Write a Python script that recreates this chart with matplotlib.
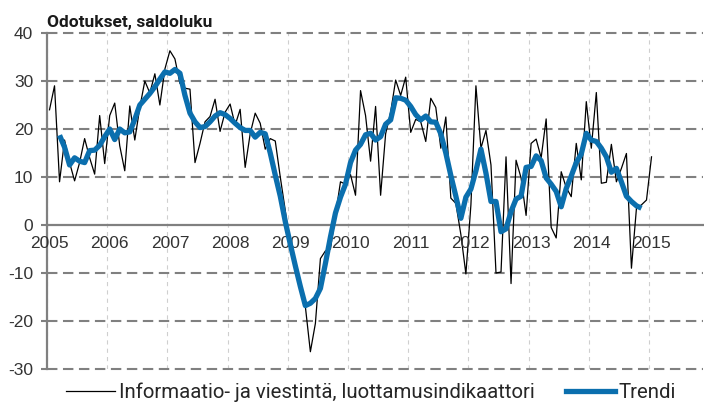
import numpy as np
import pandas as pd
import matplotlib
matplotlib.use('Agg')
from matplotlib import pyplot as plt
from matplotlib.lines import Line2D

plt.rcParams['lines.scale_dashes'] = False
kapea = ['Roboto', 'DejaVu Sans']
tavallinen = ['Liberation Sans', 'DejaVu Sans']

# Kuukausisarja tammikuu 2005 - tammikuu 2015
kuukaudet = pd.date_range('2005-01-01', '2015-01-01', freq='MS')
indikaattori = [
    24, 29, 9, 17.7, 13, 9.2, 13, 18, 14, 10.6, 22.8, 12.8,            # 2005
    22.8, 25.4, 16.5, 11.3, 24.8, 17.7, 24.5, 30, 27.5, 31.5, 25, 32.5,  # 2006
    36.3, 34.6, 29.5, 28.5, 28.3, 13, 17, 21.5, 22.6, 26.2, 19.5, 23.5,  # 2007
    25.2, 20.8, 24.1, 12, 19, 23.3, 21.2, 15.8, 18, 17.5, 10, 3,         # 2008
    -5, -8.7, -12.8, -17, -26.4, -20.5, -7, -5.4, -5, 2, 9, 8.5,         # 2009
    10.5, 6.2, 28, 22.8, 13.3, 24.7, 6.2, 19, 23.5, 30.2, 27, 30.8,      # 2010
    19.3, 22, 21.5, 17.4, 26.4, 24.5, 16, 22.5, 5.6, 4.5, -2, -10.2,     # 2011
    4.2, 29, 16, 19.7, 12.5, -10, -9.8, 14.2, -12.2, 13.5, 9.8, 2,       # 2012
    17, 17.9, 14, 22.1, -0.5, -2.7, 11.1, 7.8, 5.9, 17, 9.4, 25.7,       # 2013
    16, 27.6, 8.7, 8.9, 16.8, 9, 11.8, 14.9, -9, 3.5, 4.2, 5.2,          # 2014
    14.2,                                                                # 2015
]

# Trendi maaliskuu 2005 - marraskuu 2014
trendi_alku = '2005-03-01'
trendi = [
    18.7, 16.2, 12.5, 14, 13.3, 13, 15.5, 15.6, 16.6, 18.4,              # 2005
    20, 17.8, 20, 19.2, 19.4, 22, 25, 26.2, 27.4, 28.8, 30.4, 31.9,      # 2006
    31.6, 32.4, 31.6, 27, 23.3, 21.5, 20.3, 20.5, 21.5, 22.7, 23.4, 23,  # 2007
    22.2, 21.2, 20.3, 19.7, 19.7, 18.3, 19.3, 19, 15, 10.4, 6, 0.7,      # 2008
    -4, -8.5, -12.8, -16.8, -16.3, -15.3, -13.2, -8, -2.5, 2.5, 5.8, 8.5,  # 2009
    13, 15.6, 16.8, 18.8, 19.1, 17.7, 18.4, 21, 21.9, 26.5, 26.4, 26,    # 2010
    24.7, 23, 21.9, 22.7, 21.5, 21.4, 19, 15, 10.3, 6, 1.4, 5.8,         # 2011
    7.5, 11.3, 15.8, 10.8, 4.9, 4.9, -1.4, -0.8, 2.8, 5.4, 6, 12,        # 2012
    12.2, 14.4, 13.4, 9.8, 8.5, 7, 3.8, 7.6, 10.2, 13, 14.8, 19.1,       # 2013
    17.7, 17.4, 16, 14.2, 11, 11.8, 9, 6, 4.9, 4, 3.5,                   # 2014
]
trendi_kk = pd.date_range(trendi_alku, periods=len(trendi), freq='MS')

vuodet = list(range(2005, 2016))
y_ticks = [-30, -20, -10, 0, 10, 20, 30, 40]


def desimaalivuosi(pvm):
    return np.array([d.year + (d.month - 0.5) / 12 for d in pvm])


fig = plt.figure(figsize=(7.04, 4.03), dpi=100)
ax = fig.add_axes([47 / 704, 1 - 369 / 403, 656 / 704, 336 / 403])
ax.set_xlim(2005, 2005 + 656 / 60.2)
ax.set_ylim(-30, 40)

for v in y_ticks:
    if v == 0:
        ax.axhline(v, color='#808080', lw=1.6, zorder=2, clip_on=False)
    else:
        ax.axhline(v, color='#808080', lw=1.5, dashes=(7.5, 4), zorder=1, clip_on=False)
for yr in vuodet:
    ax.axvline(yr, color='#cfcfcf', lw=0.8, dashes=(3, 3), zorder=0)

ax.plot(desimaalivuosi(kuukaudet), indikaattori, color='black', lw=0.9, zorder=3)
ax.plot(desimaalivuosi(trendi_kk), trendi, color='#0b6fae', lw=3.8,
        solid_joinstyle='round', solid_capstyle='butt', zorder=4)

for s in ['top', 'right', 'bottom']:
    ax.spines[s].set_visible(False)
ax.spines['left'].set_color('#808080')
ax.spines['left'].set_linewidth(1.6)
ax.set_yticks(y_ticks)
ax.set_yticklabels([str(v) for v in y_ticks], family=tavallinen, fontsize=12.5, color='#333333')
ax.tick_params(axis='y', length=4, width=1.5, color='#808080', pad=6)
ax.set_xticks([])

for yr in vuodet:
    ax.annotate(str(yr), xy=(yr, 0), xytext=(1.8, -8), textcoords='offset points',
                ha='center', va='top', fontsize=12.5, color='#333333', family=tavallinen)

fig.text(47 / 704, 1 - 27 / 403, 'Odotukset, saldoluku', ha='left', va='baseline',
         fontsize=12.5, fontweight='bold', color='#1a1a1a', family=kapea)

kahvat = [Line2D([], [], color='black', lw=0.9),
          Line2D([], [], color='#0b6fae', lw=3.8)]
fig.legend(kahvat, ['Informaatio- ja viestintä, luottamusindikaattori', 'Trendi'],
           loc='center', bbox_to_anchor=(371 / 704, 1 - 392 / 403), ncol=2, frameon=False,
           handlelength=2.4, handletextpad=0.2, columnspacing=1.5,
           prop={'family': kapea, 'size': 14.7}, labelcolor='#262626')

fig.savefig('out.png', dpi=100)
